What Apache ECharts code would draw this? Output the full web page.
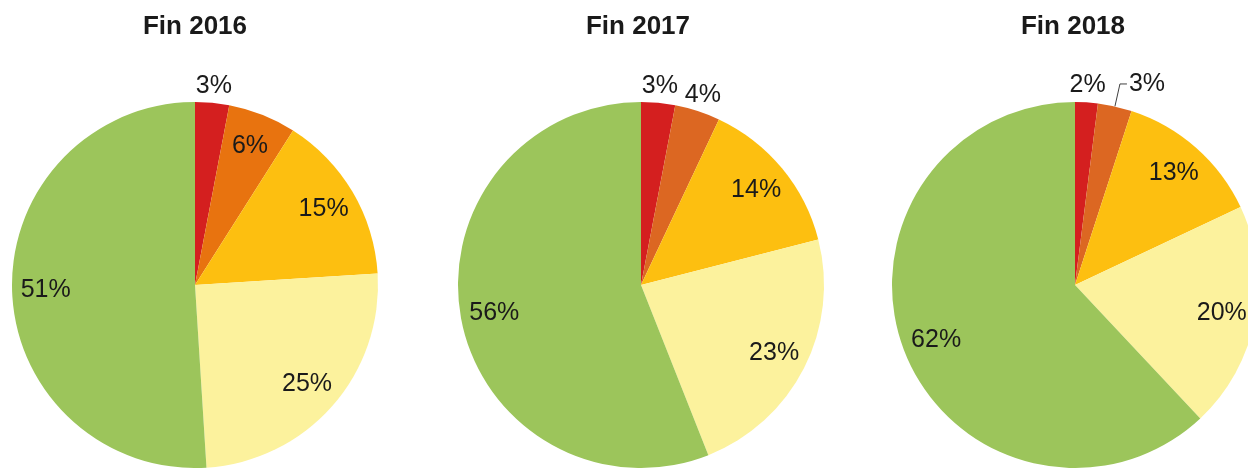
<!DOCTYPE html>
<html>
<head>
<meta charset="utf-8">
<script src="https://cdn.jsdelivr.net/npm/echarts@6/dist/echarts.min.js"></script>
<style>
  html, body { margin: 0; padding: 0; background: #fff; }
  #chart { width: 1248px; height: 468px; }
</style>
</head>
<body>
<div id="chart"></div>
<script>
// slices, clockwise from 12 o'clock
const categories = ['Rouge', 'Orange', 'Jaune', 'Jaune clair', 'Vert'];
const titles = ['Fin 2016', 'Fin 2017', 'Fin 2018'];
const values2016 = [3, 6, 15, 25, 51];
const values2017 = [3, 4, 14, 23, 56];
const values2018 = [2, 3, 13, 20, 62];

const allValues = [values2016, values2017, values2018];
// which slices get their label outside the pie (no leader line)
const outside = [[0], [0, 1], [0]];
// slice with a leader line (Fin 2018, 3%)
const leader = [null, null, 1];

const palettes = [
  ['#d41f1f', '#e8730f', '#fdbf10', '#fcf29d', '#9cc55b'],
  ['#d41f1f', '#dc6722', '#fdbf10', '#fcf29d', '#9cc55b'],
  ['#d41f1f', '#dc6722', '#fdbf10', '#fcf29d', '#9cc55b']
];

const centersX = [195, 641, 1075];
const titlesX = [195, 638, 1073];
const centerY = 285;
const R = 183;
const font = '"Liberation Sans", Arial, sans-serif';

const myChart = echarts.init(document.getElementById('chart'));

const labelText = { color: '#1a1a1a', fontSize: 25, fontFamily: font };
const series = [];
const title = [];

allValues.forEach((vals, p) => {
  const data = vals.map((v, i) => ({ name: categories[i], value: v }));
  const center = [centersX[p], centerY];

  title.push({
    text: titles[p],
    left: titlesX[p],
    top: 14,
    padding: 0,
    textAlign: 'center',
    textStyle: { fontSize: 26, fontWeight: 'bold', color: '#1a1a1a', fontFamily: font }
  });

  // the pie itself
  series.push({
    type: 'pie',
    center: center,
    radius: [0, R],
    startAngle: 90,
    silent: true,
    animation: false,
    itemStyle: { borderWidth: 0 },
    data: data.map((d, i) => ({
      ...d,
      itemStyle: { color: palettes[p][i] },
      label: i === leader[p]
        ? { show: true, position: 'outside', formatter: '{c}%', distanceToLabelLine: 2,
            padding: [0, 0, 16, 0], ...labelText }
        : { show: false },
      labelLine: i === leader[p]
        ? { show: true, length: 23, length2: 7, lineStyle: { color: '#404040', width: 1 } }
        : { show: false }
    }))
  });

  // inside labels
  series.push({
    type: 'pie',
    center: center,
    radius: [R * 0.6, R],
    startAngle: 90,
    silent: true,
    animation: false,
    itemStyle: { color: 'transparent' },
    labelLine: { show: false },
    data: data.map((d, i) => ({
      ...d,
      label: {
        show: !outside[p].includes(i) && i !== leader[p],
        position: 'inside',
        formatter: '{c}%',
        ...labelText
      }
    }))
  });

  // outside labels without leader line
  series.push({
    type: 'pie',
    center: center,
    radius: [R, R + 28],
    startAngle: 90,
    silent: true,
    animation: false,
    itemStyle: { color: 'transparent' },
    labelLine: { show: false },
    data: data.map((d, i) => ({
      ...d,
      label: {
        show: outside[p].includes(i),
        position: 'inside',
        formatter: '{c}%',
        ...labelText
      }
    }))
  });
});

myChart.setOption({
  animation: false,
  backgroundColor: '#ffffff',
  title: title,
  series: series
});
window.addEventListener('resize', myChart.resize);
</script>
</body>
</html>
